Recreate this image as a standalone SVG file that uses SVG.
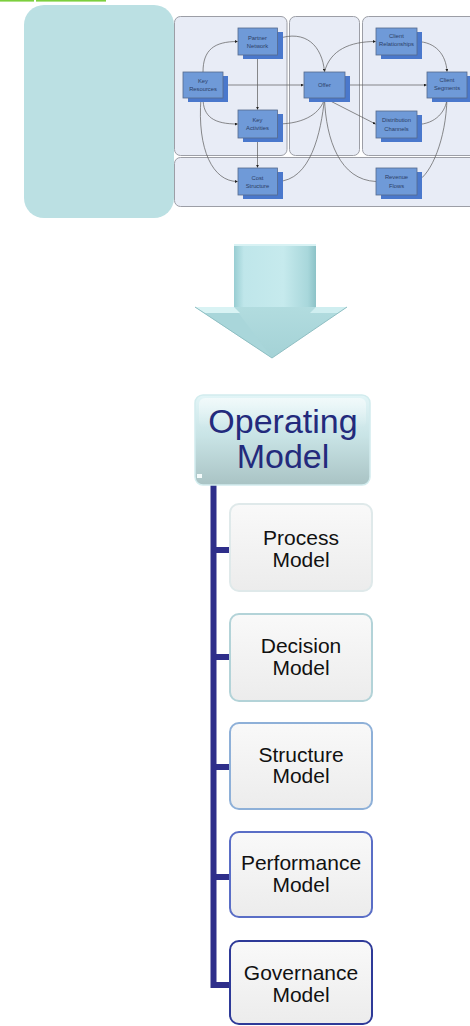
<svg xmlns="http://www.w3.org/2000/svg" width="470" height="1026" viewBox="0 0 470 1026">
  <defs>
    <style>
      .panel { fill: #e8ecf6; stroke: #9c9ea6; stroke-width: 1; }
      .bm-shadow { fill: #4a78cc; }
      .bm-box { fill: #6f9ad8; stroke: #56698c; stroke-width: 0.8; }
      .bm-text { font-family: "Liberation Sans", Arial, sans-serif; font-size: 5.8px; fill: #2c3e66; text-anchor: middle; }
      .link { fill: none; stroke: #5a5a5a; stroke-width: 0.7; }
      .tree { fill: none; stroke: #2e2e8a; stroke-width: 6; stroke-linecap: butt; stroke-linejoin: miter; }
      .child-box { fill: url(#childFill); stroke-width: 2; }
      .child-text { font-family: "Liberation Sans", Arial, sans-serif; font-size: 21px; fill: #111; text-anchor: middle; }
      .root-text { font-family: "Liberation Sans", Arial, sans-serif; font-size: 34px; fill: #232a7c; text-anchor: middle; }
    </style>
    <marker id="tip" viewBox="0 0 4 4" refX="3.6" refY="2" markerWidth="3" markerHeight="3" markerUnits="userSpaceOnUse" orient="auto">
      <path d="M0,0 L4,2 L0,4 Z" fill="#222"/>
    </marker>
    <linearGradient id="childFill" x1="0" y1="0" x2="0" y2="1">
      <stop offset="0" stop-color="#f9f9f9"/>
      <stop offset="1" stop-color="#ececec"/>
    </linearGradient>
    <linearGradient id="rootFill" x1="0" y1="0" x2="0" y2="1">
      <stop offset="0" stop-color="#e2f5f7"/>
      <stop offset="0.45" stop-color="#c9e4e6"/>
      <stop offset="1" stop-color="#a9c3c4"/>
    </linearGradient>
    <linearGradient id="rootGloss" x1="0" y1="0" x2="0" y2="1">
      <stop offset="0" stop-color="#ffffff" stop-opacity="0.55"/>
      <stop offset="1" stop-color="#ffffff" stop-opacity="0"/>
    </linearGradient>
    <linearGradient id="arrowShaft" x1="0" y1="0" x2="1" y2="0">
      <stop offset="0" stop-color="#98cdd2"/>
      <stop offset="0.12" stop-color="#bfe6ea"/>
      <stop offset="0.6" stop-color="#c6eaed"/>
      <stop offset="0.9" stop-color="#a8d7db"/>
      <stop offset="1" stop-color="#8cc2c7"/>
    </linearGradient>
    <linearGradient id="arrowHead" x1="0" y1="0" x2="0" y2="1">
      <stop offset="0" stop-color="#c2e8ea"/>
      <stop offset="1" stop-color="#a4d2d6"/>
    </linearGradient>
  </defs>

  <!-- thin green rule at the top edge -->
  <rect x="0" y="0" width="34" height="1.6" fill="#7ccf3e"/>
  <rect x="36" y="0" width="70" height="1.6" fill="#7ccf3e"/>

  <!-- teal side panel -->
  <rect id="side-panel" x="24" y="5" width="150" height="213" rx="20" fill="#bbe0e3"/>

  <!-- business model canvas: background panels -->
  <g id="canvas-panels">
    <rect class="panel" x="174.5" y="16.5" width="112.5" height="139" rx="6"/>
    <rect class="panel" x="289.5" y="16.5" width="70" height="139" rx="6"/>
    <rect class="panel" x="362.5" y="16.5" width="115" height="139" rx="6"/>
    <rect class="panel" x="174.5" y="157.5" width="303" height="49" rx="6"/>
  </g>

  <!-- canvas connectors -->
  <g id="canvas-links">
    <path class="link" d="M203,72 C203,50 214,41.5 237.5,41.5" marker-end="url(#tip)"/>
    <path class="link" d="M203,98 C203,117 214,124 237.5,124" marker-end="url(#tip)"/>
    <path class="link" d="M201,98 C197,150 213,181.5 237.5,181.5" marker-end="url(#tip)"/>
    <path class="link" d="M223,85 L303.5,85" marker-end="url(#tip)"/>
    <path class="link" d="M257.5,55 L257.5,109.5" marker-end="url(#tip)"/>
    <path class="link" d="M257.5,138 L257.5,167.5" marker-end="url(#tip)"/>
    <path class="link" d="M277,39 C306,29 322,46 324.5,71.5" marker-end="url(#tip)"/>
    <path class="link" d="M277,124 C306,124 321,112 324.5,98.5" marker-end="url(#tip)"/>
    <path class="link" d="M277,181.5 C311,181 321,132 324.5,98.5" marker-end="url(#tip)"/>
    <path class="link" d="M324.5,72 C330,50 350,41.5 375.5,41.5" marker-end="url(#tip)"/>
    <path class="link" d="M345,85 L426.5,85" marker-end="url(#tip)"/>
    <path class="link" d="M324.5,98 L375.5,124" marker-end="url(#tip)"/>
    <path class="link" d="M376,181.5 C340,180 326,140 324.5,98.5" marker-end="url(#tip)"/>
    <path class="link" d="M417,41.5 C436,42 446,55 447,71.5" marker-end="url(#tip)"/>
    <path class="link" d="M417,124.5 C436,124 446,111 447,98.5" marker-end="url(#tip)"/>
    <path class="link" d="M447,98 C446,140 431,174 417.5,181" marker-end="url(#tip)"/>
  </g>

  <!-- canvas building blocks -->
  <g id="partner-network">
    <rect class="bm-shadow" x="243" y="32" width="40" height="27"/>
    <rect class="bm-box" x="238" y="28" width="39.5" height="27"/>
    <text class="bm-text" x="257.5" y="40">Partner</text>
    <text class="bm-text" x="257.5" y="48">Network</text>
  </g>
  <g id="key-resources">
    <rect class="bm-shadow" x="188" y="76" width="40" height="26"/>
    <rect class="bm-box" x="183" y="72" width="40" height="26"/>
    <text class="bm-text" x="203" y="83">Key</text>
    <text class="bm-text" x="203" y="91">Resources</text>
  </g>
  <g id="key-activities">
    <rect class="bm-shadow" x="243" y="114" width="40" height="28"/>
    <rect class="bm-box" x="238" y="110" width="39.5" height="28"/>
    <text class="bm-text" x="257.5" y="122">Key</text>
    <text class="bm-text" x="257.5" y="130">Activities</text>
  </g>
  <g id="cost-structure">
    <rect class="bm-shadow" x="243" y="172" width="40" height="27"/>
    <rect class="bm-box" x="238" y="168" width="39.5" height="27"/>
    <text class="bm-text" x="257.5" y="180">Cost</text>
    <text class="bm-text" x="257.5" y="188">Structure</text>
  </g>
  <g id="offer">
    <rect class="bm-shadow" x="309" y="76" width="41" height="26"/>
    <rect class="bm-box" x="304" y="72" width="41" height="26"/>
    <text class="bm-text" x="324.5" y="87">Offer</text>
  </g>
  <g id="client-relationships">
    <rect class="bm-shadow" x="381" y="32" width="41" height="27"/>
    <rect class="bm-box" x="376" y="28" width="41" height="27"/>
    <text class="bm-text" x="396.5" y="38">Client</text>
    <text class="bm-text" x="396.5" y="46">Relationships</text>
  </g>
  <g id="client-segments">
    <rect class="bm-shadow" x="432" y="76" width="40" height="26"/>
    <rect class="bm-box" x="427" y="72" width="40" height="26"/>
    <text class="bm-text" x="447" y="82">Client</text>
    <text class="bm-text" x="447" y="90">Segments</text>
  </g>
  <g id="distribution-channels">
    <rect class="bm-shadow" x="381" y="115" width="41" height="27"/>
    <rect class="bm-box" x="376" y="111" width="41" height="27"/>
    <text class="bm-text" x="396.5" y="122">Distribution</text>
    <text class="bm-text" x="396.5" y="131">Channels</text>
  </g>
  <g id="revenue-flows">
    <rect class="bm-shadow" x="381" y="172" width="41" height="27"/>
    <rect class="bm-box" x="376" y="168" width="41" height="27"/>
    <text class="bm-text" x="396.5" y="179">Revenue</text>
    <text class="bm-text" x="396.5" y="188">Flows</text>
  </g>

  <!-- big downward arrow -->
  <g id="down-arrow">
    <path d="M195,307 L234,307 L234,245 L316,245 L316,307 L347,307 L272,358 Z" fill="url(#arrowHead)"/>
    <rect x="234" y="245" width="82" height="62" fill="url(#arrowShaft)"/>
    <path d="M195,307 L234,307 L272,358 Z" fill="#a9d6da"/>
    <path d="M195,307 L234,307 L240,313 L205,313 Z" fill="#d9f3f4"/>
    <path d="M347,307 L316,307 L310,313 L338,313 Z" fill="#cfeef0"/>
    <path d="M195,307 L272,358 L347,307" fill="none" stroke="#8fbfc3" stroke-width="1"/>
    <path d="M234,245 L316,245" stroke="#d8f2f4" stroke-width="2"/>
  </g>

  <!-- tree connectors -->
  <g id="tree-links">
    <path class="tree" d="M213.5,485 V985 H230"/>
    <path class="tree" d="M213.5,550 H230"/>
    <path class="tree" d="M213.5,657 H230"/>
    <path class="tree" d="M213.5,767 H230"/>
    <path class="tree" d="M213.5,877 H230"/>
  </g>

  <!-- root node -->
  <g id="operating-model">
    <rect x="195" y="395" width="175" height="90" rx="8" fill="url(#rootFill)" stroke="#d2ecee" stroke-width="1.5"/>
    <rect x="199" y="398" width="167" height="30" rx="6" fill="url(#rootGloss)"/>
    <rect x="197" y="474" width="5" height="4" fill="#f4fbfb"/>
    <text class="root-text" x="283" y="433">Operating</text>
    <text class="root-text" x="283" y="468">Model</text>
  </g>

  <!-- child nodes -->
  <g id="process-model">
    <rect class="child-box" x="230" y="504" width="142" height="87" rx="9" stroke="#dfe9ea"/>
    <text class="child-text" x="301" y="545">Process</text>
    <text class="child-text" x="301" y="567">Model</text>
  </g>
  <g id="decision-model">
    <rect class="child-box" x="230" y="614" width="142" height="87" rx="9" stroke="#b3d3d8"/>
    <text class="child-text" x="301" y="653">Decision</text>
    <text class="child-text" x="301" y="675">Model</text>
  </g>
  <g id="structure-model">
    <rect class="child-box" x="230" y="723" width="142" height="86" rx="9" stroke="#8eb0d8"/>
    <text class="child-text" x="301" y="762">Structure</text>
    <text class="child-text" x="301" y="783">Model</text>
  </g>
  <g id="performance-model">
    <rect class="child-box" x="230" y="832" width="142" height="85" rx="9" stroke="#5a6ec6"/>
    <text class="child-text" x="301" y="870">Performance</text>
    <text class="child-text" x="301" y="892">Model</text>
  </g>
  <g id="governance-model">
    <rect class="child-box" x="230" y="941" width="142" height="83" rx="9" stroke="#2e3a98"/>
    <text class="child-text" x="301" y="980">Governance</text>
    <text class="child-text" x="301" y="1002">Model</text>
  </g>
</svg>
